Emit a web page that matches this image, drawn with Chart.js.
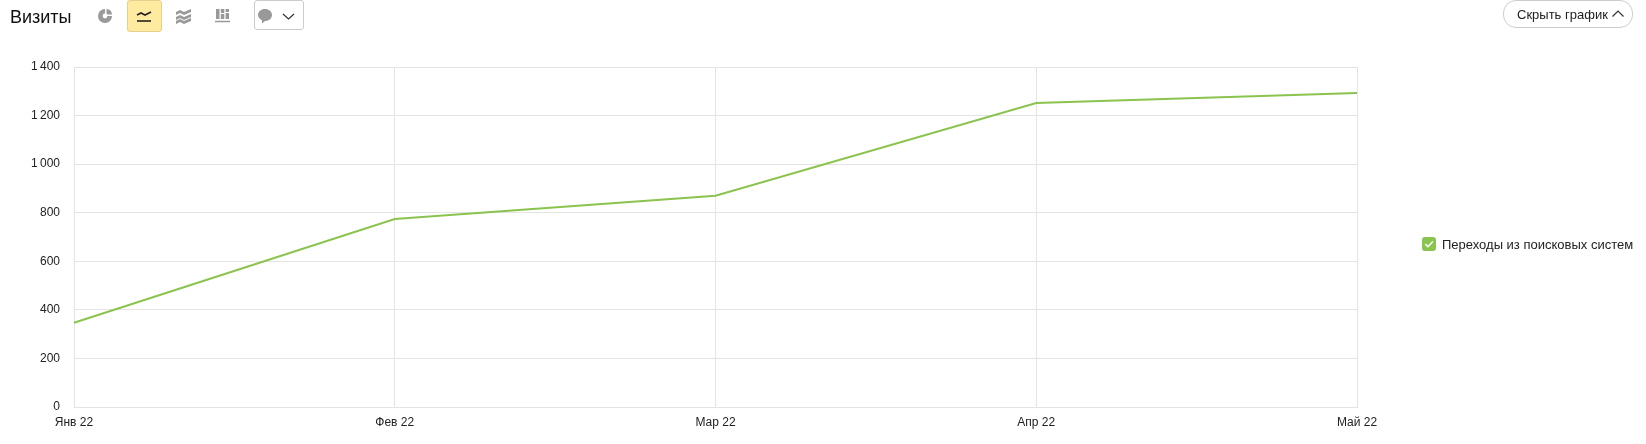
<!DOCTYPE html>
<html lang="ru">
<head>
<meta charset="utf-8">
<title>Визиты</title>
<script src="https://cdn.jsdelivr.net/npm/chart.js@4"></script>
<style>
  html, body { margin: 0; padding: 0; background: #fff; }
  body { width: 1646px; height: 444px; position: relative; overflow: hidden; font-family: "Liberation Sans", Arial, sans-serif; color: #222; }
  #chart { position: absolute; left: 0; top: 0; }
  .title { position: absolute; left: 10px; top: 6px; font-size: 18px; line-height: 22px; color: #111; }
  .icon { position: absolute; }
  .active { position: absolute; left: 127px; top: 0; width: 33px; height: 30px; background: #ffeba0; border: 1px solid #e5cf8b; border-radius: 3px; }
  .comment { position: absolute; left: 254px; top: 0; width: 48px; height: 28px; border: 1px solid #ccc; border-radius: 3px; }
  .hide { position: absolute; left: 1503px; top: 0; width: 128px; height: 26px; border: 1px solid #ccc; border-radius: 13px; font-size: 13px; line-height: 27px; color: #222; text-indent: 13px; box-sizing: content-box; }
  .legend { position: absolute; left: 1422px; top: 237px; font-size: 13px; line-height: 15px; white-space: nowrap; color: #222; }
  .legend svg { position: absolute; left: 0; top: 0; }
  .legend span { margin-left: 20px; }
</style>
</head>
<body>
<canvas id="chart" width="1646" height="444"></canvas>

<div class="title">Визиты</div>

<!-- pie icon -->
<svg class="icon" style="left:97px;top:8px" width="16" height="16" viewBox="0 0 16 16">
  <path d="M8 1a7 7 0 1 0 7 7H8z" fill="#999"/><path d="M9.500 1a6 6 0 0 1 5.500 5.500H9.500z" fill="#999"/><circle cx="8" cy="8" r="2.400" fill="#fff"/>
</svg>
<div class="active"></div>
<!-- line icon -->
<svg class="icon" style="left:136px;top:8px" width="16" height="16" viewBox="0 0 16 16">
  <path d="M1 7l4-2 4 2 6-3" fill="none" stroke="#222" stroke-width="1.600"/><path d="M1 13h14" stroke="#222" stroke-width="1.600"/>
</svg>
<!-- area icon -->
<svg class="icon" style="left:176px;top:8px" width="15" height="16" viewBox="0 0 15 16">
  <path d="M0 4l4-2 4 2 7-3v3L8 7 4 5 0 7zM0 9l4-2 4 2 7-3v3l-7 3-4-2-4 2zM0 13l4-2 4 2 7-3v3l-7 3-4-2-4 2z" fill="#999"/>
</svg>
<!-- bars icon -->
<svg class="icon" style="left:215px;top:7px" width="15" height="16" viewBox="0 0 15 16">
  <path d="M1 2h3.500v10H1zM5.800 2h3.500v4H5.800zM5.800 7h3.500v5H5.800zM10.600 2H14v3h-3.400zM10.600 6H14v6h-3.400z" fill="#999"/><path d="M0 14.500h15" stroke="#999" stroke-width="1.500"/>
</svg>
<div class="comment"></div>
<svg class="icon" style="left:257px;top:8px" width="40" height="16" viewBox="0 0 40 16">
  <path d="M8 1c4 0 7 2.600 7 6s-3 6-7 6l-3 2.500v-3.200C2.600 11 1 9.200 1 7c0-3.400 3-6 7-6z" fill="#999"/>
  <path d="M26 6l5.500 5L37 6" fill="none" stroke="#333" stroke-width="1.200"/>
</svg>

<div class="hide">Скрыть график</div>
<svg class="icon" style="left:1611px;top:9px" width="14" height="10" viewBox="0 0 14 10">
  <path d="M1.500 7.500L7 2l5.500 5.500" fill="none" stroke="#333" stroke-width="1.200"/>
</svg>

<div class="legend">
  <svg width="14" height="14" viewBox="0 0 14 14">
    <rect width="14" height="14" rx="3" fill="#8bc34f"/>
    <path d="M3.300 7l2.700 2.700L10.800 4.500" fill="none" stroke="#fff" stroke-width="1.600"/>
  </svg>
  <span>Переходы из поисковых систем</span>
</div>

<script>
// Chart data
const months = ['Янв 22', 'Фев 22', 'Мар 22', 'Апр 22', 'Май 22'];
const visits = [347, 774, 870, 1252, 1293];
const yTickValues = [0, 200, 400, 600, 800, 1000, 1200, 1400];
const yTickLabels = ['0', '200', '400', '600', '800', '1\u2009000', '1\u2009200', '1\u2009400'];

const seriesName = 'Переходы из поисковых систем';
const gridColor = '#e4e4e4';

const chart = new Chart(document.getElementById('chart').getContext('2d'), {
  type: 'line',
  data: {
    labels: months,
    datasets: [{
      label: seriesName,
      data: visits,
      borderColor: '#8bc34f',
      borderWidth: 2,
      pointRadius: 0,
      tension: 0,
      fill: false
    }]
  },
  options: {
    responsive: false,
    animation: false,
    layout: { padding: { left: 0, right: 289, top: 67, bottom: 0 } },
    plugins: { legend: { display: false }, tooltip: { enabled: false } },
    scales: {
      x: {
        type: 'category',
        offset: false,
        grid: { color: gridColor, drawTicks: false },
        border: { color: gridColor },
        afterFit: function (scale) { scale.height = 37; },
        ticks: {
          autoSkip: false,
          maxRotation: 0,
          padding: 8,
          color: '#222',
          font: { family: '"Liberation Sans", Arial, sans-serif', size: 12 }
        }
      },
      y: {
        min: 0,
        max: 1400,
        grid: { color: gridColor, drawTicks: false },
        border: { color: gridColor },
        afterFit: function (scale) { scale.width = 74; },
        ticks: {
          stepSize: 200,
          padding: 14,
          color: '#222',
          font: { family: '"Liberation Sans", Arial, sans-serif', size: 12 },
          callback: function (value) {
            return yTickLabels[yTickValues.indexOf(value)];
          }
        }
      }
    }
  }
});
</script>
</body>
</html>
